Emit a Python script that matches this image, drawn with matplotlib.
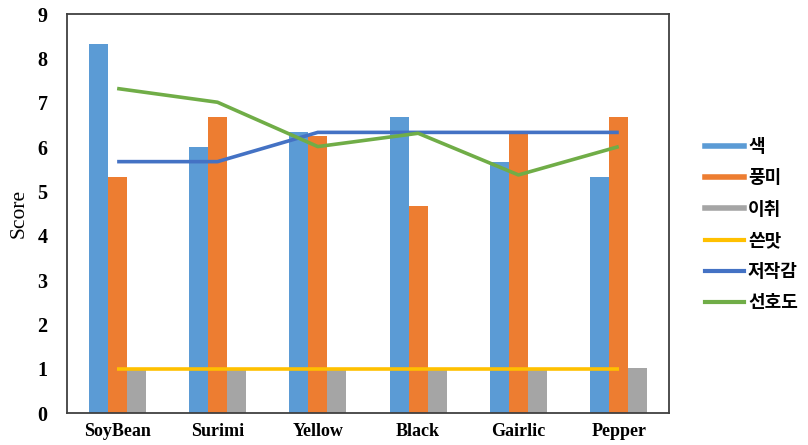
import matplotlib
matplotlib.use("Agg")
import matplotlib.pyplot as plt
import numpy as np
from matplotlib.lines import Line2D

categories = ["SoyBean", "Surimi", "Yellow", "Black", "Gairlic", "Pepper"]
color_score = [8.33, 6.00, 6.33, 6.67, 5.67, 5.33]      # 색
flavor_score = [5.33, 6.67, 6.25, 4.67, 6.33, 6.67]     # 풍미
offflavor_score = [0.96, 0.96, 0.96, 0.96, 0.96, 1.02]  # 이취
bitter_score = [1.0, 1.0, 1.0, 1.0, 1.0, 1.0]           # 쓴맛
chew_score = [5.67, 5.67, 6.33, 6.33, 6.33, 6.33]       # 저작감
pref_score = [7.32, 7.01, 6.01, 6.31, 5.37, 6.01]       # 선호도

bar_names = ["색", "풍미", "이취"]
line_names = ["쓴맛", "저작감", "선호도"]
bar_colors = ["#5B9BD5", "#ED7D31", "#A5A5A5"]
line_colors = ["#FFC000", "#4472C4", "#70AD47"]

fig = plt.figure(figsize=(8.08, 4.45), dpi=100)
ax = fig.add_axes([0.0829, 0.0719, 0.745, 0.8966])

x = np.arange(len(categories))
w = 0.19
for i, (vals, c) in enumerate(zip([color_score, flavor_score, offflavor_score], bar_colors)):
    ax.bar(x + (i - 1) * w, vals, width=w, color=c, zorder=2)

for vals, c in zip([bitter_score, chew_score, pref_score], line_colors):
    ax.plot(x, vals, color=c, lw=2.6, zorder=3, solid_capstyle="butt")

ax.set_xlim(-0.5, len(categories) - 0.5)
ax.set_ylim(0, 9)
ax.set_yticks(range(0, 10))
ax.set_xticks(x)
xfont = {"family": "Liberation Serif", "weight": "bold", "size": 13}
yfont = {"family": "Liberation Serif", "weight": "bold", "size": 14.5}
ax.set_xticklabels(categories, fontdict=xfont)
ax.set_yticklabels([str(v) for v in range(10)], fontdict=yfont)
ax.tick_params(axis="y", length=0, pad=14)
ax.tick_params(axis="x", length=0, pad=7)
for s in ax.spines.values():
    s.set_color("#404040")
    s.set_linewidth(1.3)
ax.set_ylabel("Score", fontfamily="Liberation Serif", fontsize=15.5, labelpad=6)

handles = [Line2D([0], [0], color=c, lw=4) for c in bar_colors] + \
          [Line2D([0], [0], color=c, lw=3) for c in line_colors]
labels = bar_names + line_names
leg = fig.legend(handles, labels, loc="center left", bbox_to_anchor=(0.852, 0.495),
                 frameon=False, handlelength=2.2, handletextpad=0.2, labelspacing=0.68,
                 prop={"family": ["Noto Sans CJK KR", "DejaVu Sans"], "weight": "bold", "size": 13})

fig.savefig("out.png", dpi=100)
